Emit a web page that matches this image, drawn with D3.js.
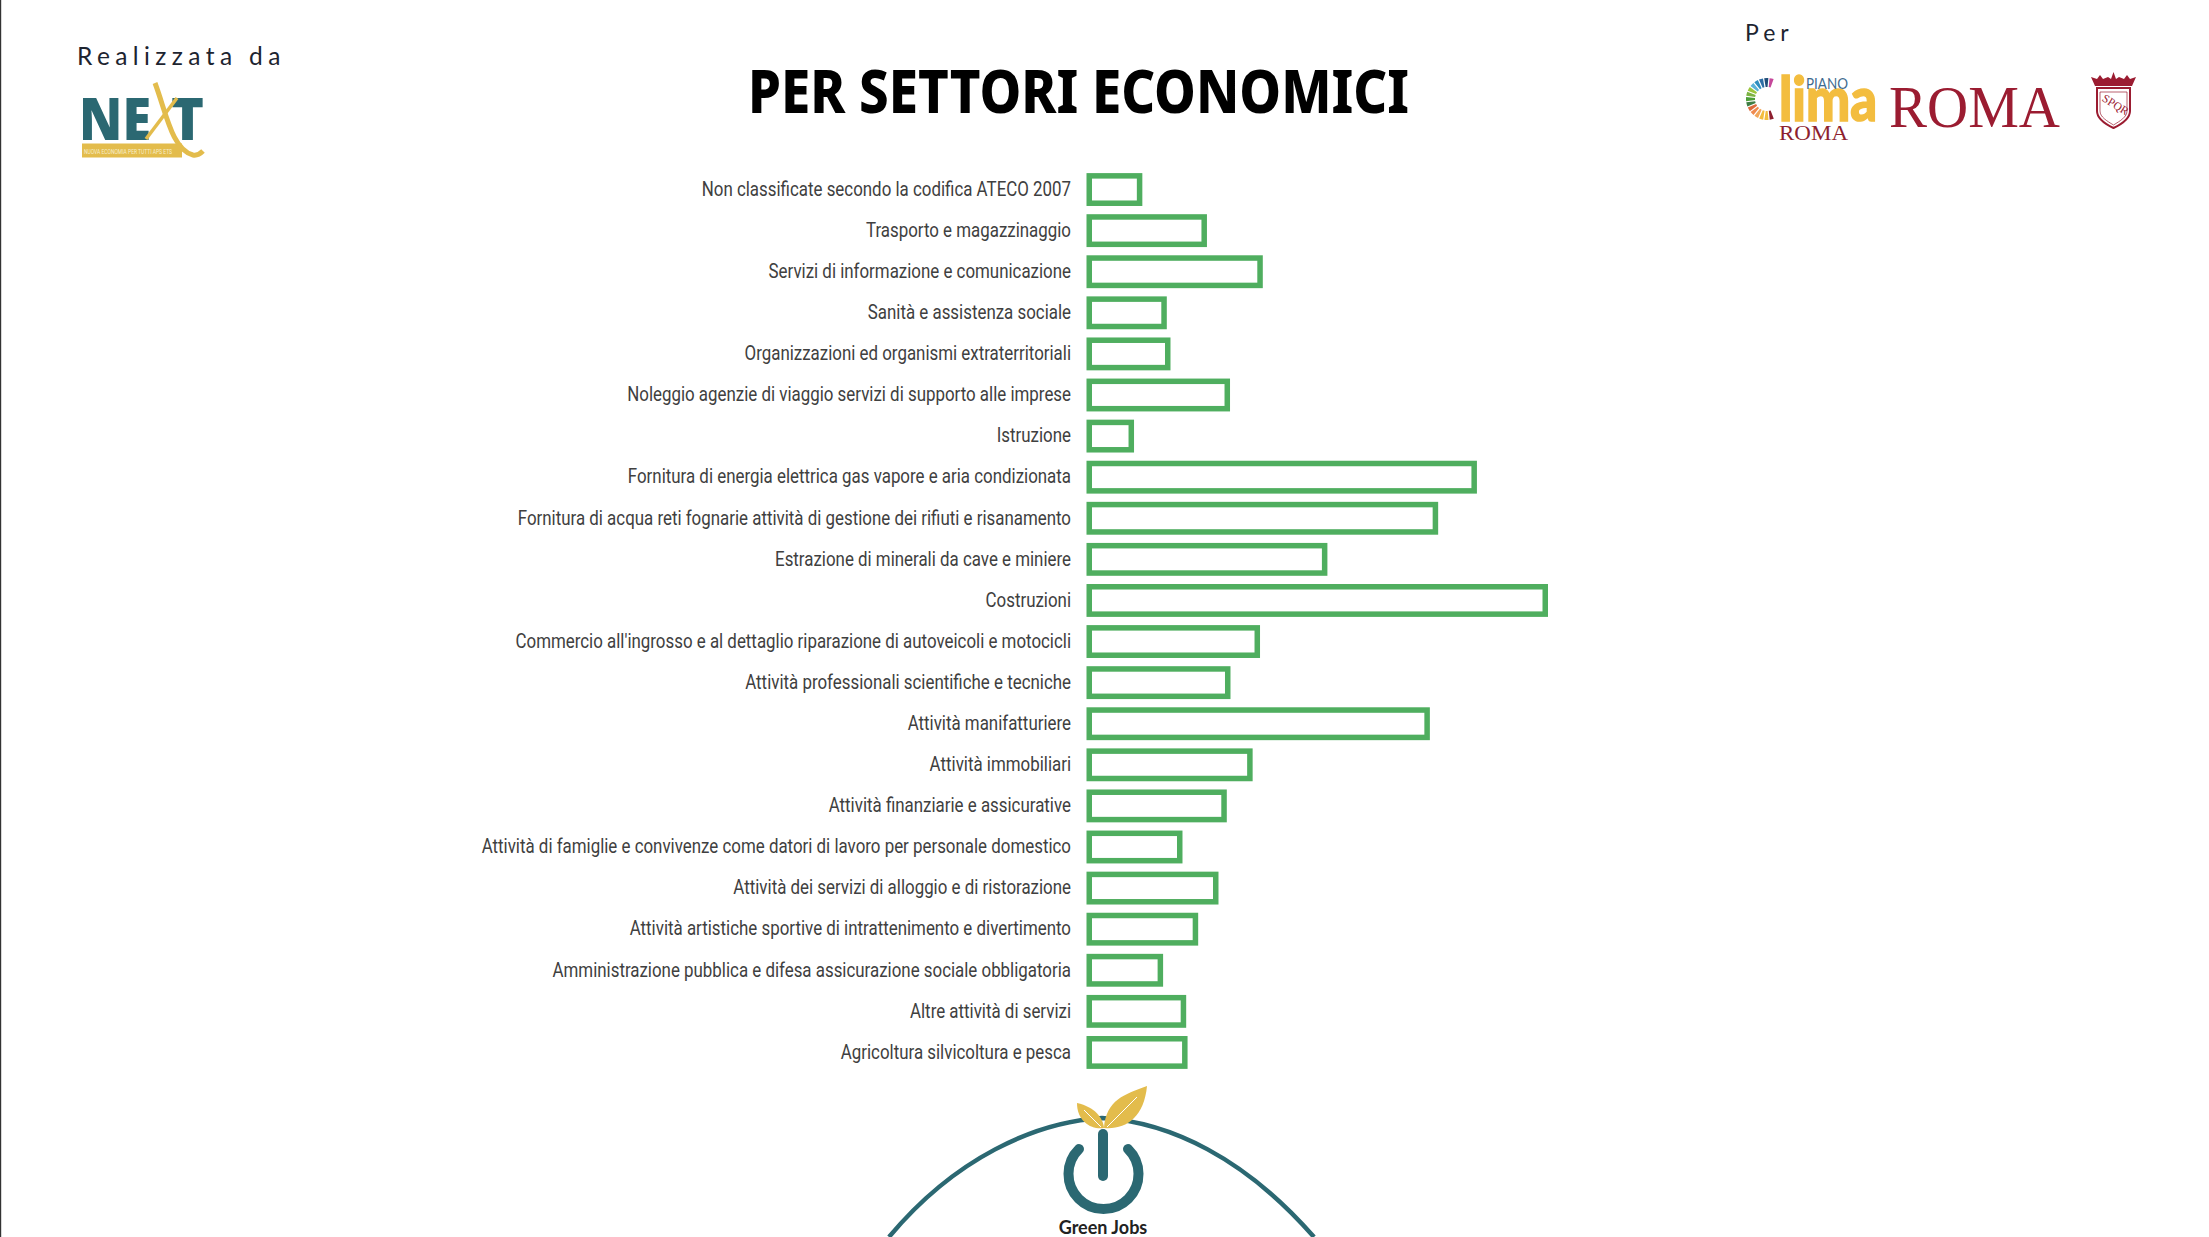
<!DOCTYPE html>
<html lang="it">
<head>
<meta charset="utf-8">
<title>Per settori economici</title>
<script src="https://cdn.jsdelivr.net/npm/d3@7/dist/d3.min.js"></script>
<style>
html,body{margin:0;padding:0;background:#fff;overflow:hidden}
svg{display:block}
</style>
</head>
<body>
<svg id="chart" width="2209" height="1237" viewBox="0 0 2209 1237"></svg>
<script>
const chartTitle = "PER SETTORI ECONOMICI";
const categories = [
  "Non classificate secondo la codifica ATECO 2007",
  "Trasporto e magazzinaggio",
  "Servizi di informazione e comunicazione",
  "Sanità e assistenza sociale",
  "Organizzazioni ed organismi extraterritoriali",
  "Noleggio agenzie di viaggio servizi di supporto alle imprese",
  "Istruzione",
  "Fornitura di energia elettrica gas vapore e aria condizionata",
  "Fornitura di acqua reti fognarie attività di gestione dei rifiuti e risanamento",
  "Estrazione di minerali da cave e miniere",
  "Costruzioni",
  "Commercio all'ingrosso e al dettaglio riparazione di autoveicoli e motocicli",
  "Attività professionali scientifiche e tecniche",
  "Attività manifatturiere",
  "Attività immobiliari",
  "Attività finanziarie e assicurative",
  "Attività di famiglie e convivenze come datori di lavoro per personale domestico",
  "Attività dei servizi di alloggio e di ristorazione",
  "Attività artistiche sportive di intrattenimento e divertimento",
  "Amministrazione pubblica e difesa assicurazione sociale obbligatoria",
  "Altre attività di servizi",
  "Agricoltura silvicoltura e pesca"
];
// No axis in the source: values are read as bar length, relative to the longest bar = 100
const values = [12.1,26.1,38.2,17.4,18.2,31.1,10.3,84.6,76.2,52.2,100,37.6,31.2,74.4,36,30.4,20.8,28.6,24.2,16.6,21.6,21.9];
const sdgColors = ["#c5479a","#1f4e79","#2d6ea5","#2f8fc0","#5bb3d8","#9bc53d","#7cb342","#4c9f38","#3f7e44","#dd6a3b","#ef8a4e","#f2a65a","#f3bd3f","#f3bd3f","#8d1f2f"];

const TEAL = "#2b6872", GOLD = "#e3bc4c", RED = "#9b1c31", GREEN = "#4fae5f";
const svg = d3.select("#chart");

svg.append("rect").attr("width",2209).attr("height",1237).attr("fill","#fff");
svg.append("rect").attr("width",1.2).attr("height",1237).attr("fill","#333");

// Title
svg.append("text").attr("x",1078.5).attr("y",113).attr("text-anchor","middle")
  .attr("font-family","'Noto Sans','Open Sans',sans-serif").attr("font-weight",800).attr("font-size",60)
  .attr("textLength",661).attr("lengthAdjust","spacingAndGlyphs").attr("fill","#000").text(chartTitle);

// Chart
const x = d3.scaleLinear().domain([0,100]).range([1086.5,1548]);
const y = d3.scaleBand().domain(categories).range([169,1073]).paddingInner(0.2).paddingOuter(0.1);
const SW = 5.5;

const axis = d3.axisLeft(y).tickSize(0).tickPadding(0);
const gA = svg.append("g").attr("transform","translate(1071,0)").call(axis);
gA.select(".domain").remove();
gA.selectAll("text")
  .attr("font-family","Roboto,sans-serif")
  .attr("font-size",19.5).attr("fill","#404040")
  .attr("lengthAdjust","spacingAndGlyphs")
  .attr("textLength",function(){ return this.getComputedTextLength()*0.866; });

svg.append("g").selectAll("rect").data(categories).join("rect")
  .attr("x",x(0)+SW/2)
  .attr("y",d=>y(d)+SW/2)
  .attr("width",(d,i)=>x(values[i])-x(0)-SW)
  .attr("height",y.bandwidth()-SW)
  .attr("fill","#fff").attr("stroke",GREEN).attr("stroke-width",SW);

// Left credit
svg.append("text").attr("x",77).attr("y",65).attr("font-family","Lato,Inter,sans-serif").attr("font-size",24.5)
  .attr("letter-spacing",5.4).attr("fill","#1d2430").text("Realizzata da");
const next = svg.append("g");
const nxStyle = s=>s.attr("font-family","'Open Sans','Noto Sans',sans-serif").attr("font-weight",800).attr("fill",TEAL).attr("font-size",58);
next.append("text").attr("x",79).attr("y",140).call(nxStyle).attr("textLength",72).attr("lengthAdjust","spacingAndGlyphs").text("NE");
next.append("text").attr("x",171).attr("y",140).call(nxStyle).attr("textLength",33).attr("lengthAdjust","spacingAndGlyphs").text("T");
next.append("rect").attr("x",82).attr("y",143.5).attr("width",100).attr("height",14).attr("fill",GOLD);
next.append("text").attr("x",84).attr("y",154).attr("font-family","Roboto,sans-serif").attr("font-size",6.5).attr("fill","#f7eecb").attr("textLength",88).attr("lengthAdjust","spacingAndGlyphs").text("NUOVA ECONOMIA PER TUTTI APS ETS");
next.append("path").attr("d","M155,83 C166,112 172,150 193,155 C198,156 201,153 203,151").attr("fill","none").attr("stroke",GOLD).attr("stroke-width",5);
next.append("path").attr("d","M146,139 L177,98").attr("fill","none").attr("stroke",GOLD).attr("stroke-width",3.5);

// Right credit
svg.append("text").attr("x",1745).attr("y",41).attr("font-family","Lato,Inter,sans-serif").attr("font-size",23)
  .attr("letter-spacing",5).attr("fill","#1d2430").text("Per");
const ring = d3.arc().innerRadius(12).outerRadius(21).padAngle(0.05);
const ringScale = d3.scaleLinear().domain([0,sdgColors.length]).range([0.35,-3.5]);
svg.append("g").attr("transform","translate(1767,99)").selectAll("path").data(sdgColors).join("path")
  .attr("d",(d,i)=>ring({startAngle:ringScale(i),endAngle:ringScale(i+1)}))
  .attr("fill",d=>d);
svg.append("text").attr("x",1779).attr("y",121).attr("font-family","'Lato','Open Sans',sans-serif").attr("font-weight",900).attr("font-size",60)
  .attr("textLength",98).attr("lengthAdjust","spacingAndGlyphs").attr("fill","#f3bd3f").attr("stroke","#f3bd3f").attr("stroke-width",1.5).text("lima");
svg.append("text").attr("x",1806).attr("y",89).attr("font-family","Lato,sans-serif").attr("font-weight",400).attr("font-size",15)
  .attr("textLength",42).attr("lengthAdjust","spacingAndGlyphs").attr("fill","#3f6c8f").text("PIANO");
svg.append("text").attr("x",1779).attr("y",140).attr("font-family","'Liberation Serif',serif").attr("font-size",22)
  .attr("textLength",69).attr("lengthAdjust","spacingAndGlyphs").attr("fill","#8d1f2f").text("ROMA");
svg.append("text").attr("x",1889).attr("y",127).attr("font-family","'Liberation Serif',serif").attr("font-size",59)
  .attr("textLength",171).attr("lengthAdjust","spacingAndGlyphs").attr("fill",RED).text("ROMA");

// Crest
const crest = svg.append("g");
crest.append("path").attr("d","M2097,88 H2130 V111 C2130,119 2122,124 2113.5,128 C2105,124 2097,119 2097,111 Z").attr("fill","none").attr("stroke",RED).attr("stroke-width",2);
crest.append("path").attr("d","M2100,92 H2127 V111 C2127,117 2120,121 2113.5,125 C2107,121 2100,117 2100,111 Z").attr("fill","none").attr("stroke",RED).attr("stroke-width",0.7);
crest.append("path").attr("d","M2095,86 L2091,77 L2097,79 L2100,75 L2103,79 L2108,77 L2111,79 L2113.5,72 L2116,79 L2119,77 L2124,79 L2127,75 L2130,79 L2136,77 L2132,86 Z").attr("fill",RED);
crest.append("text").attr("transform","translate(2113.5,108) rotate(32)").attr("text-anchor","middle").attr("font-family","'Liberation Serif',serif").attr("font-size",11.5).attr("fill",RED).text("SPQR");

// Green Jobs emblem
const em = svg.append("g");
em.append("path").attr("d","M889,1237 C955,1158 1035,1122 1102,1118 C1170,1122 1245,1158 1314,1237").attr("fill","none").attr("stroke",TEAL).attr("stroke-width",4.5);
em.append("path").attr("d","M1079,1149 A35,35 0 1 0 1128,1149").attr("fill","none").attr("stroke",TEAL).attr("stroke-width",10).attr("stroke-linecap","round");
em.append("path").attr("d","M1103,1134 V1176").attr("fill","none").attr("stroke",TEAL).attr("stroke-width",10).attr("stroke-linecap","round");
em.append("path").attr("d","M1077,1103 C1095,1107 1103,1118 1104,1128 C1092,1130 1077,1122 1077,1103 Z").attr("fill",GOLD);
em.append("path").attr("d","M1147,1086 C1125,1094 1106,1100 1104,1128 C1125,1130 1144,1118 1147,1086 Z").attr("fill",GOLD);
em.append("path").attr("d","M1084,1110 L1101,1127 M1137,1097 L1107,1127").attr("fill","none").attr("stroke","#fff").attr("stroke-width",1);
em.append("text").attr("x",1103).attr("y",1234).attr("text-anchor","middle").attr("font-family","Lato,sans-serif").attr("font-weight",700).attr("font-size",18).attr("fill","#222").text("Green Jobs");
</script>
</body>
</html>
